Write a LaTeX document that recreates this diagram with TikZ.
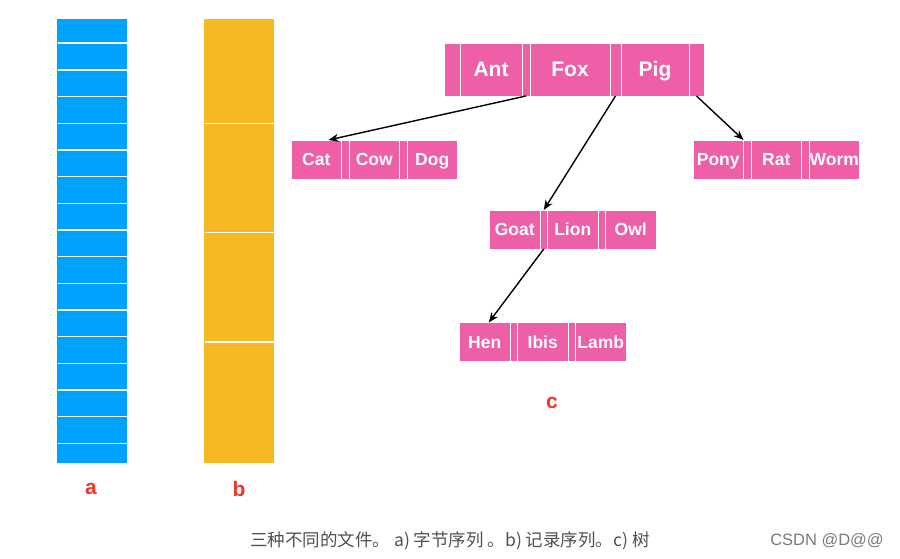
\documentclass[tikz,border=0pt]{standalone}
\usepackage{fontspec}
\setmainfont{Liberation Sans}
\newfontfamily\cjkfont{Noto Sans CJK SC}
\usetikzlibrary{positioning,arrows.meta}
\definecolor{barblue}{HTML}{00A2FF}
\definecolor{barorange}{HTML}{F6B924}
\definecolor{keypink}{HTML}{EE5FA8}
\definecolor{labelred}{HTML}{F2352A}
\definecolor{captiongray}{HTML}{505050}
\definecolor{markgray}{HTML}{7A7A7A}

\begin{document}
\begin{tikzpicture}[x=1pt, y=-1pt,
	key/.style={draw=white, line width=0.8pt, fill=keypink, text=white,
		font=\bfseries\fontsize{17.5}{17.5}\selectfont, text height=12.5pt, text depth=0pt,
		minimum width=50.5pt, minimum height=39pt, inner sep=0pt, outer sep=0pt},
	slot/.style={key, minimum width=7.5pt},
	rootkey/.style={key, minimum height=53pt, text height=15pt,
		font=\bfseries\fontsize{21}{21}\selectfont},
	arr/.style={-{Stealth[length=10pt,width=8pt]}, line width=1.4pt, black},
	letter/.style={text=labelred, font=\bfseries\fontsize{21}{21}\selectfont},
	sepline/.style={white, line width=1.6pt}]
	\useasboundingbox (0,0) rectangle (900,559);
	% a) byte sequence
	\node[fill=barblue, minimum width=70pt, minimum height=444pt, inner sep=0pt] (bara) at (92,241) {};
	\foreach \y in {0,...,15}
		\draw[sepline] (57.5,43.3+26.67*\y) -- (126.5,43.3+26.67*\y);
	\node[letter] (la) at (91,489) {a};
	% b) record sequence
	\node[fill=barorange, minimum width=70pt, minimum height=444pt, inner sep=0pt] (barb) at (239,241) {};
	\foreach \y in {123.5,232.5,342}
		\draw[sepline] (204.5,\y) -- (273.5,\y);
	\node[letter] (lb) at (239,489) {b};
	% c) tree
	\node[rootkey, minimum width=16pt] (rs0) at (452,69.5) {};
	\node[rootkey, minimum width=62pt, right=0pt of rs0] (ant) {Ant};
	\node[rootkey, minimum width=8pt, right=0pt of ant] (rs1) {};
	\node[rootkey, minimum width=80pt, right=0pt of rs1] (fox) {Fox};
	\node[rootkey, minimum width=11pt, right=0pt of fox] (rs2) {};
	\node[rootkey, minimum width=68pt, right=0pt of rs2] (pig) {Pig};
	\node[rootkey, minimum width=15pt, right=0pt of pig] (rs3) {};

	\node[key] (cat) at (316.25,159.5) {Cat};
	\node[slot, right=0pt of cat] (cs1) {};
	\node[key, right=0pt of cs1] (cow) {Cow};
	\node[slot, right=0pt of cow] (cs2) {};
	\node[key, right=0pt of cs2] (dog) {Dog};

	\node[key] (pony) at (718.25,159.5) {Pony};
	\node[slot, right=0pt of pony] (ps1) {};
	\node[key, right=0pt of ps1] (rat) {Rat};
	\node[slot, right=0pt of rat] (ps2) {};
	\node[key, right=0pt of ps2] (worm) {Worm};

	\node[key] (goat) at (514.75,229.5) {Goat};
	\node[slot, right=0pt of goat] (gs1) {};
	\node[key, right=0pt of gs1] (lion) {Lion};
	\node[slot, right=0pt of lion] (gs2) {};
	\node[key, right=0pt of gs2] (owl) {Owl};

	\node[key] (hen) at (484.75,342) {Hen};
	\node[slot, right=0pt of hen] (hs1) {};
	\node[key, right=0pt of hs1] (ibis) {Ibis};
	\node[slot, right=0pt of ibis] (hs2) {};
	\node[key, right=0pt of hs2] (lamb) {Lamb};

	\draw[arr] (rs1.south) -- ([xshift=-13pt]cat.north east);
	\draw[arr] (rs2.south) -- (gs1.north);
	\draw[arr] (rs3.south) -- (pony.north east);
	\draw[arr] (gs1.south) -- ([xshift=4pt]hen.north);
	\node[letter] (lc) at (552,403) {c};
	% caption
	\node[text=captiongray, font=\cjkfont\fontsize{17.5}{17.5}\selectfont] (cap) at (450,541)
		{三种不同的文件。 a) 字节序列 。b) 记录序列。c) 树};
	\node[text=markgray, font=\fontsize{16.5}{16.5}\selectfont] (mark) at (827,541) {CSDN @D@@};
\end{tikzpicture}
\end{document}
